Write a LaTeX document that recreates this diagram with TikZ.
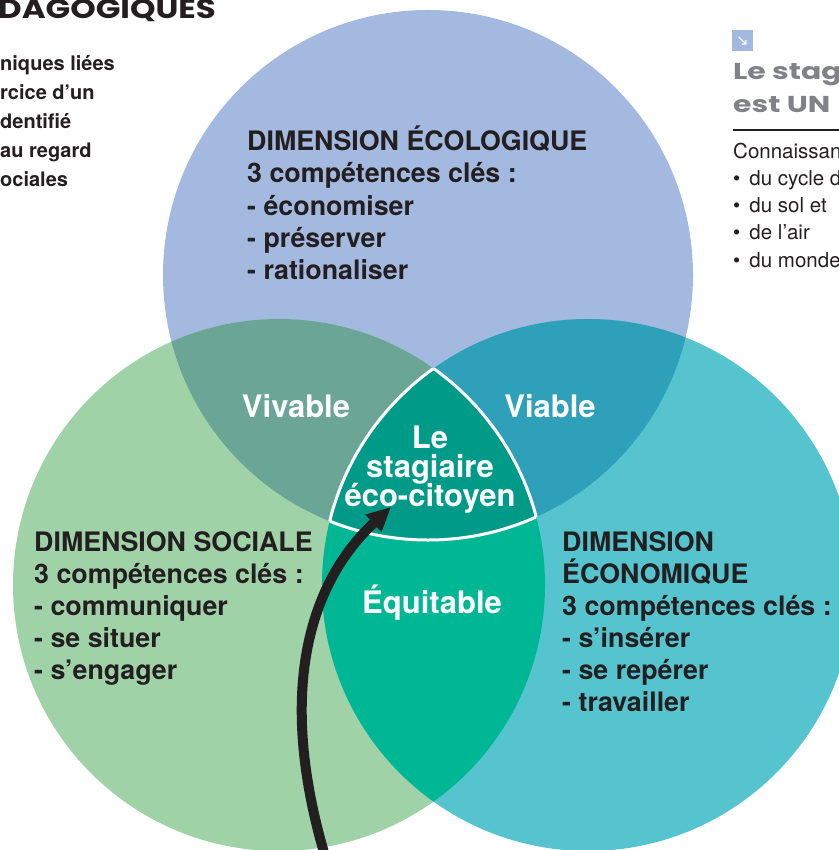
\documentclass[tikz,border=0pt]{standalone}
\usepackage{fontspec}
\setmainfont{TeX Gyre Heros}
\newfontfamily\dispfont{Poppins}
\newfontfamily\symfont{DejaVu Sans}
\usetikzlibrary{arrows.meta}

\definecolor{ecoblue}{HTML}{A3B9DF}
\definecolor{socgreen}{HTML}{9FD2A7}
\definecolor{econcyan}{HTML}{56C4CF}
\definecolor{vivcol}{HTML}{6BA596}
\definecolor{viacol}{HTML}{2FA0BA}
\definecolor{equcol}{HTML}{00B795}
\definecolor{midcol}{HTML}{009A88}
\definecolor{ink}{HTML}{231F20}
\definecolor{greytitle}{HTML}{808285}

\newcommand\ecopath{(428,275) circle[radius=265pt]}
\newcommand\socpath{(279,585) circle[radius=266pt]}
\newcommand\econpath{(588,585) circle[radius=266pt]}

\tikzset{
  dimtxt/.style={font=\bfseries\fontsize{26.8}{32}\selectfont, text=ink, inner sep=0pt, anchor=base west},
  zonetxt/.style={font=\bfseries\fontsize{31}{31}\selectfont, text=white, inner sep=0pt, anchor=base},
  sidetxt/.style={font=\bfseries\fontsize{20}{29}\selectfont, text=ink, inner sep=0pt, anchor=base west},
  infotxt/.style={font=\fontsize{20.5}{27}\selectfont, text=ink, inner sep=0pt, anchor=base west},
  headtxt/.style={font=\dispfont\bfseries\fontsize{23}{23}\selectfont, text=greytitle, inner sep=0pt, anchor=base west},
  midline/.style={white, line width=3pt},
  pointer/.style={ink, line width=10pt, -{Triangle[length=24pt,width=22pt]}}
}

\begin{document}
\begin{tikzpicture}[x=1pt,y=-1pt]
\useasboundingbox (0,0) rectangle (838,850);

% Circles
\fill[ecoblue] \ecopath;
\fill[socgreen] \socpath;
\fill[econcyan] \econpath;

% Overlaps
\begin{scope}
  \clip \socpath;
  \fill[equcol] \econpath;
\end{scope}
\begin{scope}
  \clip \ecopath;
  \fill[vivcol] \socpath;
  \fill[viacol] \econpath;
  \clip \socpath;
  \fill[midcol] \econpath;
\end{scope}

% White outline of the centre
\begin{scope}
  \clip \ecopath; \clip \socpath;
  \draw[midline] \econpath;
\end{scope}
\begin{scope}
  \clip \ecopath; \clip \econpath;
  \draw[midline] \socpath;
\end{scope}
\begin{scope}
  \clip \socpath; \clip \econpath;
  \draw[midline] \ecopath;
\end{scope}

% Dimensions
\foreach \y/\t [count=\i] in {151/DIMENSION ÉCOLOGIQUE, 183/3 compétences clés :, 215/- économiser, 247/- préserver, 279/- rationaliser}
  \node[dimtxt] (eco\i) at (247,\y) {\t};
\foreach \y/\t [count=\i] in {551/DIMENSION SOCIALE, 583/3 compétences clés :, 615/- communiquer, 647/- se situer, 679/- s’engager}
  \node[dimtxt] (soc\i) at (34,\y) {\t};
\foreach \y/\t [count=\i] in {551/DIMENSION, 583/ÉCONOMIQUE, 615/3 compétences clés :, 647/- s’insérer, 679/- se repérer, 711/- travailler}
  \node[dimtxt] (econ\i) at (562,\y) {\t};

% Overlap labels
\node[zonetxt] (vivable) at (296,417) {Vivable};
\node[zonetxt] (viable) at (550,417) {Viable};
\node[zonetxt] (equitable) at (432,613) {Équitable};
\foreach \y/\t [count=\i] in {448/Le, 477/stagiaire, 506/éco-citoyen}
  \node[zonetxt] (mid\i) at (430,\y) {\t};

% Arrow
\coordinate (arrbot) at (325,856);
\coordinate (arrtip) at (391,507);
\draw[pointer] (arrbot) .. controls (276,690) and (310,582) .. (arrtip);

% Left margin text
\node[inner sep=0pt, anchor=base west, text=ink, font=\dispfont\bfseries\fontsize{27}{27}\selectfont] (title) at (-2,19) {\scalebox{1.2}[1]{DAGOGIQUES}};
\foreach \y/\t [count=\i] in {71/niques liées, 100/rcice d’un, 129/dentifié, 158/au regard, 187/ociales}
  \node[sidetxt] (side\i) at (0,\y) {\t};

% Right margin text
\node[fill=ecoblue, minimum size=21pt, inner sep=0pt, text=white, font=\symfont\fontsize{15}{15}\selectfont] (icon) at (742.5,41) {↘};
\node[headtxt] (head1) at (733,80) {\scalebox{1.3}[1]{Le stag}};
\node[headtxt] (head2) at (733,113) {\scalebox{1.3}[1]{est UN}};
\draw[ink, line width=2.5pt] (733,130) -- (840,130);
\foreach \y/\t [count=\i] in {159/Connaissan, 186/•\, du cycle d, 213/•\, du sol et, 240/•\, de l’air, 267/•\, du monde}
  \node[infotxt] (info\i) at (733,\y) {\t};
\end{tikzpicture}
\end{document}
